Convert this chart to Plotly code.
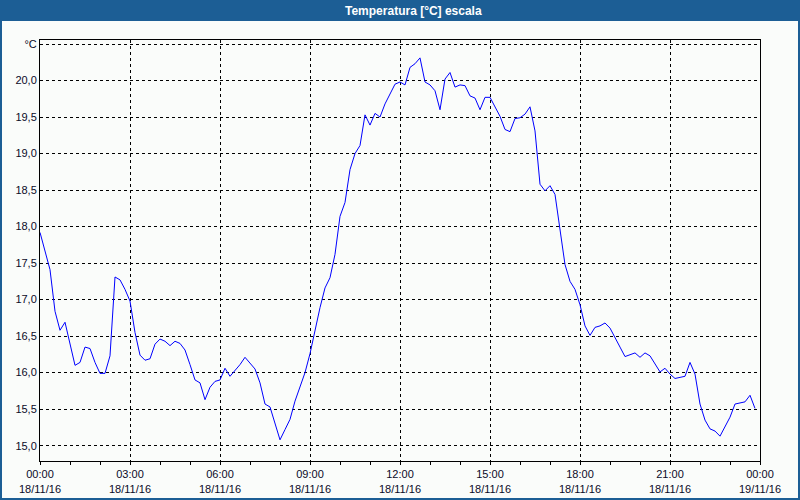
import pandas as pd
import plotly.graph_objects as go

# ---- data -------------------------------------------------------------
start_time = "2016-11-18 00:00"
n_points = 144
sample_freq = "10min"
times = pd.date_range(start_time, periods=n_points, freq=sample_freq)

temperature_c = [
    17.92, 17.68, 17.41, 16.84, 16.58, 16.69, 16.39, 16.10, 16.14, 16.35,
    16.33, 16.14, 15.99, 15.99, 16.23, 17.31, 17.27, 17.14, 16.98, 16.55,
    16.24, 16.17, 16.19, 16.39, 16.46, 16.43, 16.37, 16.43, 16.40, 16.31,
    16.11, 15.90, 15.86, 15.63, 15.80, 15.88, 15.90, 16.06, 15.95, 16.03,
    16.11, 16.21, 16.13, 16.05, 15.86, 15.57, 15.53, 15.30, 15.08, 15.22,
    15.36, 15.61, 15.80, 16.00, 16.26, 16.59, 16.89, 17.16, 17.30, 17.62,
    18.14, 18.33, 18.78, 19.00, 19.11, 19.53, 19.39, 19.55, 19.50, 19.68,
    19.82, 19.95, 19.98, 19.94, 20.18, 20.23, 20.31, 19.98, 19.94, 19.86,
    19.60, 20.02, 20.11, 19.91, 19.94, 19.93, 19.79, 19.76, 19.60, 19.77,
    19.77, 19.65, 19.51, 19.33, 19.30, 19.48, 19.49, 19.54, 19.64, 19.31,
    18.58, 18.49, 18.56, 18.44, 17.98, 17.48, 17.25, 17.14, 16.93, 16.64,
    16.51, 16.62, 16.64, 16.68, 16.61, 16.49, 16.35, 16.22, 16.24, 16.27,
    16.21, 16.27, 16.23, 16.12, 16.01, 16.06, 15.98, 15.92, 15.93, 15.95,
    16.14, 15.98, 15.57, 15.35, 15.23, 15.20, 15.13, 15.25, 15.39, 15.57,
    15.59, 15.60, 15.69, 15.51,
]

y_tick_values = [15.0, 15.5, 16.0, 16.5, 17.0, 17.5, 18.0, 18.5, 19.0, 19.5, 20.0, 20.5]
y_tick_labels = ["15,0", "15,5", "16,0", "16,5", "17,0", "17,5", "18,0", "18,5",
                 "19,0", "19,5", "20,0", "°C"]
x_range = ["2016-11-18 00:00", "2016-11-19 00:00"]
y_range = [14.79, 20.555]
title_text = "Temperatura [°C] escala"

# ---- style --------------------------------------------------------------
W, H = 800, 500
ML, MR, MT, MB = 40, 40, 40, 39
PW, PH = W - ML - MR, H - MT - MB
BLUE = "#1c5e95"
BG = "#fafcfa"
FONT = "Liberation Sans"


def px_x(px):
    return (px - ML) / PW


def px_y(py):
    return (H - MB - py) / PH


fig = go.Figure()
fig.add_trace(go.Scatter(
    x=times, y=temperature_c, mode="lines",
    line=dict(color="#0000ff", width=1), hoverinfo="skip", showlegend=False,
))

fig.update_layout(
    width=W, height=H, autosize=False,
    margin=dict(l=ML, r=MR, t=MT, b=MB, pad=0),
    paper_bgcolor=BG, plot_bgcolor=BG,
    font=dict(family=FONT, size=11, color="#0a0a28"),
    showlegend=False,
    shapes=[
        dict(type="rect", xref="paper", yref="paper",
             x0=px_x(0), x1=px_x(W), y0=px_y(21), y1=px_y(0),
             fillcolor=BLUE, line=dict(width=0), layer="below"),
        dict(type="rect", xref="paper", yref="paper",
             x0=px_x(1), x1=px_x(W - 1), y0=px_y(H - 1), y1=px_y(1),
             fillcolor="rgba(0,0,0,0)", line=dict(color=BLUE, width=2), layer="above"),
    ],
    annotations=[
        dict(text="<b>" + title_text + "</b>", xref="paper", yref="paper",
             x=px_x(413), y=px_y(10.5), xanchor="center", yanchor="middle",
             showarrow=False, font=dict(family=FONT, size=12, color="white")),
    ],
)

fig.update_xaxes(
    type="date", range=x_range, automargin=False,
    tickmode="linear", tick0=x_range[0], dtick=3 * 3600000,
    tickformat="%H:%M<br>%d/%m/%y",
    ticks="outside", ticklen=3, tickcolor="black", tickwidth=1,
    minor=dict(tickmode="linear", tick0=x_range[0], dtick=3600000,
               ticks="outside", ticklen=3, tickcolor="black", showgrid=False),
    showgrid=True, gridcolor="black", gridwidth=1, griddash="3px,3px",
    showline=True, linecolor="black", linewidth=1, mirror=True,
    zeroline=False, fixedrange=True,
)
fig.update_yaxes(
    range=y_range, automargin=False,
    tickmode="array", tickvals=y_tick_values, ticktext=y_tick_labels,
    ticks="", showgrid=True, gridcolor="black", gridwidth=1, griddash="3px,3px",
    showline=True, linecolor="black", linewidth=1, mirror=True,
    zeroline=False, fixedrange=True,
)

fig.write_html("out.html")
